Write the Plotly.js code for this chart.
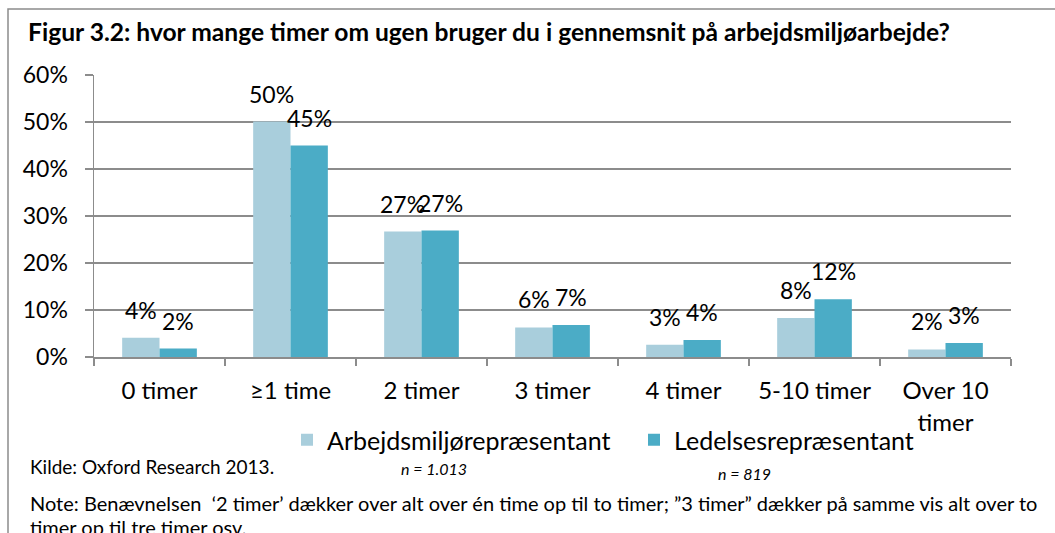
<!DOCTYPE html>
<html>
<head>
<meta charset="utf-8">
<script src="https://cdn.plot.ly/plotly-3.0.1.min.js"></script>
<style>
html,body{margin:0;padding:0;background:#fff;}
#chart{width:1055px;height:533px;}
</style>
</head>
<body>
<div id="chart"></div>
<script>
// ---- data ----
const categories = ["0 timer", "≥1 time", "2 timer", "3 timer", "4 timer", "5-10 timer", "Over 10<br>timer"];
const seriesNames = ["Arbejdsmiljørepræsentant", "Ledelsesrepræsentant"];
const arbejdsmiljo = [4.1, 50.1, 26.7, 6.3, 2.6, 8.3, 1.6];
const ledelse = [1.8, 45.0, 26.9, 6.8, 3.6, 12.3, 3.0];
const yTicks = [0, 10, 20, 30, 40, 50, 60];
const titleText = "Figur 3.2: hvor mange timer om ugen bruger du i gennemsnit på arbejdsmiljøarbejde?";
const sourceText = "Kilde: Oxford Research 2013.";
const nTexts = ["n = 1.013", "n = 819"];
const noteLines = ["Note: Benævnelsen  ‘2 timer’ dækker over alt over én time op til to timer; ”3 timer” dækker på samme vis alt over to",
                   "timer op til tre timer osv."];

// ---- style ----
const colors = ["#A9CEDC", "#4BACC6"];
const FONT = "Lato, 'Open Sans', sans-serif";
const W = 1055, H = 533;
const L = 94, R = 44, T = 75, B = 176;
const pw = W - L - R, ph = H - T - B;
const px2x = p => (p - L) / pw;
const py2y = p => (H - B - p) / ph;
const barOffsetPx = 18.75;

const traces = [arbejdsmiljo, ledelse].map((vals, i) => ({
  type: "bar",
  name: seriesNames[i],
  x: categories,
  y: vals,
  marker: {color: colors[i], line: {width: 0}},
  hoverinfo: "skip"
}));

const annotations = [];
[arbejdsmiljo, ledelse].forEach((vals, i) => {
  vals.forEach((v, j) => {
    annotations.push({
      x: categories[j], y: v, xref: "x", yref: "y",
      text: Math.round(v) + "%",
      showarrow: false,
      xanchor: "center", yanchor: "bottom",
      xshift: (i === 0 ? -1 : 1) * barOffsetPx,
      yshift: 12,
      font: {family: FONT, size: 23, color: "#000"}
    });
  });
});
annotations.push({xref: "paper", yref: "paper", x: px2x(28), y: py2y(466), xanchor: "left", yanchor: "middle",
  text: sourceText, showarrow: false, font: {family: FONT, size: 19, color: "#000"}});
annotations.push({xref: "paper", yref: "paper", x: px2x(434), y: py2y(468), xanchor: "center", yanchor: "middle",
  text: "<i>" + nTexts[0] + "</i>", showarrow: false, font: {family: FONT, size: 16, color: "#000"}});
annotations.push({xref: "paper", yref: "paper", x: px2x(744), y: py2y(474), xanchor: "center", yanchor: "middle",
  text: "<i>" + nTexts[1] + "</i>", showarrow: false, font: {family: FONT, size: 16, color: "#000"}});
noteLines.forEach((t, k) => {
  annotations.push({xref: "paper", yref: "paper", x: px2x(28), y: py2y(503 + k * 24), xanchor: "left", yanchor: "middle",
    text: t, showarrow: false, font: {family: FONT, size: 20, color: "#000"}});
});

const layout = {
  width: W, height: H,
  margin: {l: L, r: R, t: T, b: B, pad: 0, autoexpand: false},
  paper_bgcolor: "#fff", plot_bgcolor: "#fff",
  font: {family: FONT, color: "#000"},
  title: {
    text: "<b>" + titleText + "</b>",
    x: 28 / W, xanchor: "left", xref: "container",
    y: 1 - 32 / H, yanchor: "middle", yref: "container",
    font: {family: FONT, size: 24.6, color: "#000"}
  },
  barmode: "group",
  bargap: 0.43,
  bargroupgap: 0,
  xaxis: {
    type: "category",
    showgrid: false,
    showline: true, linecolor: "#8C8C8C", linewidth: 1.5,
    ticks: "outside", tickson: "boundaries", ticklen: 7, tickcolor: "#8C8C8C", tickwidth: 1.5,
    tickfont: {family: FONT, size: 24, color: "#000"},
    tickangle: 0,
    ticklabelstandoff: 12,
    automargin: false,
    fixedrange: true
  },
  yaxis: {
    range: [0, 60],
    tickvals: yTicks,
    ticktext: yTicks.map(v => v + "%"),
    showgrid: true, gridcolor: "#8C8C8C", gridwidth: 1.5,
    showline: true, linecolor: "#8C8C8C", linewidth: 1.5,
    ticks: "outside", ticklen: 8, tickcolor: "#8C8C8C", tickwidth: 1.5,
    tickfont: {family: FONT, size: 23, color: "#000"},
    ticklabelstandoff: 12,
    automargin: false,
    zeroline: false,
    fixedrange: true
  },
  showlegend: true,
  legend: {
    orientation: "h",
    x: px2x(287), xanchor: "left",
    y: py2y(440), yanchor: "middle",
    entrywidth: 302, entrywidthmode: "pixels",
    font: {family: FONT, size: 25, color: "#000"},
    bgcolor: "rgba(0,0,0,0)",
    traceorder: "normal"
  },
  shapes: [{
    type: "rect", xref: "paper", yref: "paper",
    x0: px2x(8), x1: px2x(1100), y0: py2y(560), y1: py2y(9),
    line: {color: "#8C8C8C", width: 1.5}, fillcolor: "rgba(0,0,0,0)", layer: "below"
  }],
  annotations: annotations
};

Plotly.newPlot("chart", traces, layout, {displayModeBar: false, staticPlot: true});
</script>
</body>
</html>
